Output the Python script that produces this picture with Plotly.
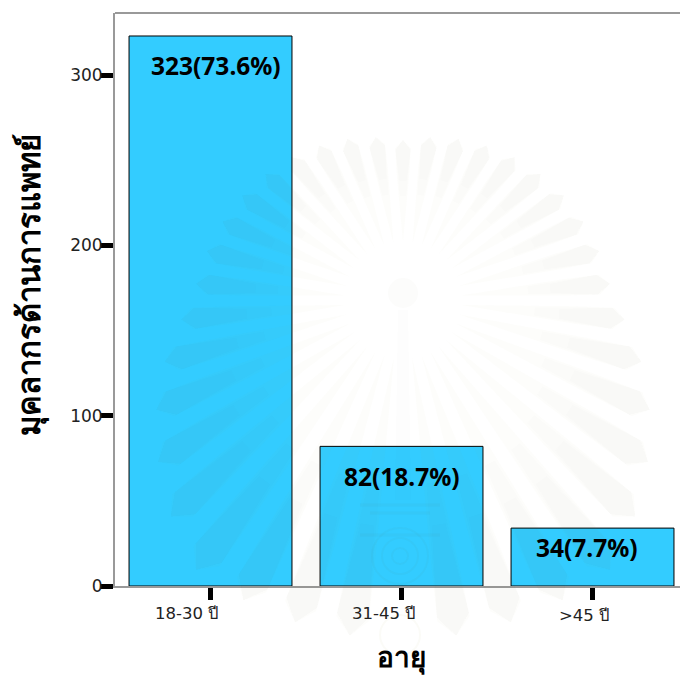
import math
import plotly.graph_objects as go

categories = ["18-30 ปี", "31-45 ปี", ">45 ปี"]
counts = [323, 82, 34]
percents = [73.6, 18.7, 7.7]
y_ticks = [0, 100, 200, 300]
x_title = "อายุ"
y_title = "มุคลากรด้านการแพทย์"

W, H = 680, 676
PLOT_L, PLOT_R, PLOT_T, PLOT_B = 115, 680, 13, 586
LABEL_FONT = "Noto Sans, DejaVu Sans, sans-serif"
TICK_FONT = "DejaVu Sans, Noto Sans, sans-serif"


def fx(x):
    """Page pixel to paper fraction, horizontally."""
    return (x - PLOT_L) / (PLOT_R - PLOT_L)


def fy(y):
    """Page pixel to paper fraction, vertically."""
    return 1 - (y - PLOT_T) / (PLOT_B - PLOT_T)


fig = go.Figure(
    go.Bar(
        x=categories,
        y=counts,
        width=0.853,
        marker=dict(color="#33ccff", line=dict(color="black", width=1)),
        hoverinfo="skip",
    )
)

# Value labels sit near the top of each bar, nudged off centre
label_nudges = [(5, -30), (0, -30), (-6, -19)]
for cat, n, p, (dx, dy) in zip(categories, counts, percents, label_nudges):
    fig.add_annotation(
        x=cat, y=n, text=f"<b>{n}({p}%)</b>", showarrow=False,
        xshift=dx, yshift=dy, font=dict(size=24.5, color="black", family=LABEL_FONT),
    )

# Category labels hang left of their ticks, each by its own amount
tick_nudges = [(-24, -27), (-18, -27), (-9, -29)]
for cat, (dx, dy) in zip(categories, tick_nudges):
    fig.add_annotation(
        x=cat, y=0, text=cat, showarrow=False, xshift=dx, yshift=dy,
        font=dict(size=16.5, color="#222222", family=TICK_FONT),
    )


def page_path(points):
    return "M " + " L ".join(f"{fx(x):.4f} {fy(y):.4f}" for x, y in points) + " Z"


# Faint sunburst printed across the page: a cream petal with a greyer, softer tip
shapes = []
cx, cy = 403, 300


def reach_at(deg):
    d = abs(deg)
    if d <= 90:
        return 160 + 50 * d / 90
    return min(210 + (d - 90) * 2.5, 340)


def polar(r, a):
    return cx + r * math.sin(a), cy - r * math.cos(a)


for k in range(-18, 19):
    deg = k * 9.5
    a = math.radians(deg)
    reach = reach_at(deg)
    half = math.radians(2.9)
    petal = [
        polar(58, a),
        polar(58 + (reach - 58) * 0.7, a - half),
        polar(reach * 0.95, a - half),
        polar(reach, a),
        polar(reach * 0.95, a + half),
        polar(58 + (reach - 58) * 0.7, a + half),
    ]
    shapes.append(dict(type="path", xref="paper", yref="paper", path=page_path(petal),
                       layer="above", fillcolor="rgba(170,170,80,0.022)", line=dict(width=0)))
    for inset in (0.45, 0.6):
        tip = [
            polar(58 + (reach - 58) * inset, a - half * 0.6),
            polar(reach * 0.94, a - half),
            polar(reach, a),
            polar(reach * 0.94, a + half),
            polar(58 + (reach - 58) * inset, a + half * 0.6),
        ]
        shapes.append(dict(type="path", xref="paper", yref="paper", path=page_path(tip),
                           layer="above", fillcolor="rgba(100,100,90,0.01)", line=dict(width=0)))


def page_circle(x, y, r, fill=None, line=None):
    return dict(type="circle", xref="paper", yref="paper", layer="above",
                x0=fx(x - r), x1=fx(x + r), y0=fy(y + r), y1=fy(y - r),
                fillcolor=fill or "rgba(0,0,0,0)",
                line=dict(width=2 if line else 0, color=line or "rgba(0,0,0,0)"))


# Centre figure and the crest below it
shapes.append(page_circle(403, 293, 15, fill="rgba(120,120,90,0.025)"))
shapes.append(dict(type="path", xref="paper", yref="paper", layer="above",
                   path=page_path([(398, 310), (408, 310), (411, 500), (395, 500)]),
                   fillcolor="rgba(120,120,90,0.012)", line=dict(width=0)))
crest = "rgba(90,90,40,0.03)"
for y0, half in ((505, 40), (513, 30), (535, 40)):
    shapes.append(dict(type="line", xref="paper", yref="paper", layer="above",
                       x0=fx(400 - half), x1=fx(400 + half), y0=fy(y0), y1=fy(y0),
                       line=dict(color=crest, width=3)))
for r in (28, 18, 8):
    shapes.append(page_circle(400, 556, r, line=crest))
shapes.append(page_circle(400, 635, 20, line="rgba(170,160,60,0.045)"))

fig.update_layout(
    width=W,
    height=H,
    margin=dict(l=PLOT_L, r=W - PLOT_R, t=PLOT_T, b=H - PLOT_B),
    paper_bgcolor="white",
    plot_bgcolor="white",
    showlegend=False,
    shapes=shapes,
    font=dict(family=LABEL_FONT, color="#222222"),
    xaxis=dict(
        type="category", range=[-0.5, 2.458], ticks="outside", ticklen=12, tickwidth=5, tickcolor="black",
        showticklabels=False, showline=True, linecolor="#999999", linewidth=2, mirror=False,
    ),
    yaxis=dict(
        range=[0, 336.5], tickvals=y_ticks, ticks="outside", ticklen=13, tickwidth=5, tickcolor="black",
        tickfont=dict(size=17, color="#222222", family=TICK_FONT), ticklabelstandoff=-6,
        showline=True, linecolor="#999999", linewidth=2, showgrid=False, zeroline=False,
    ),
)
fig.add_shape(type="line", xref="paper", yref="paper", x0=0, x1=1, y0=1, y1=1,
              line=dict(color="#999999", width=2))

# Axis titles placed on the page, away from the plot centre
fig.add_annotation(xref="paper", yref="paper", x=fx(401), y=fy(656), text=f"<b>{x_title}</b>",
                   xanchor="center", yanchor="middle",
                   showarrow=False, font=dict(size=28, color="black", family=LABEL_FONT))
fig.add_annotation(xref="paper", yref="paper", x=fx(28), y=fy(285), text=f"<b>{y_title}</b>", textangle=-90,
                   xanchor="center", yanchor="middle",
                   showarrow=False, font=dict(size=31, color="black", family=LABEL_FONT))

fig.write_html("out.html")
